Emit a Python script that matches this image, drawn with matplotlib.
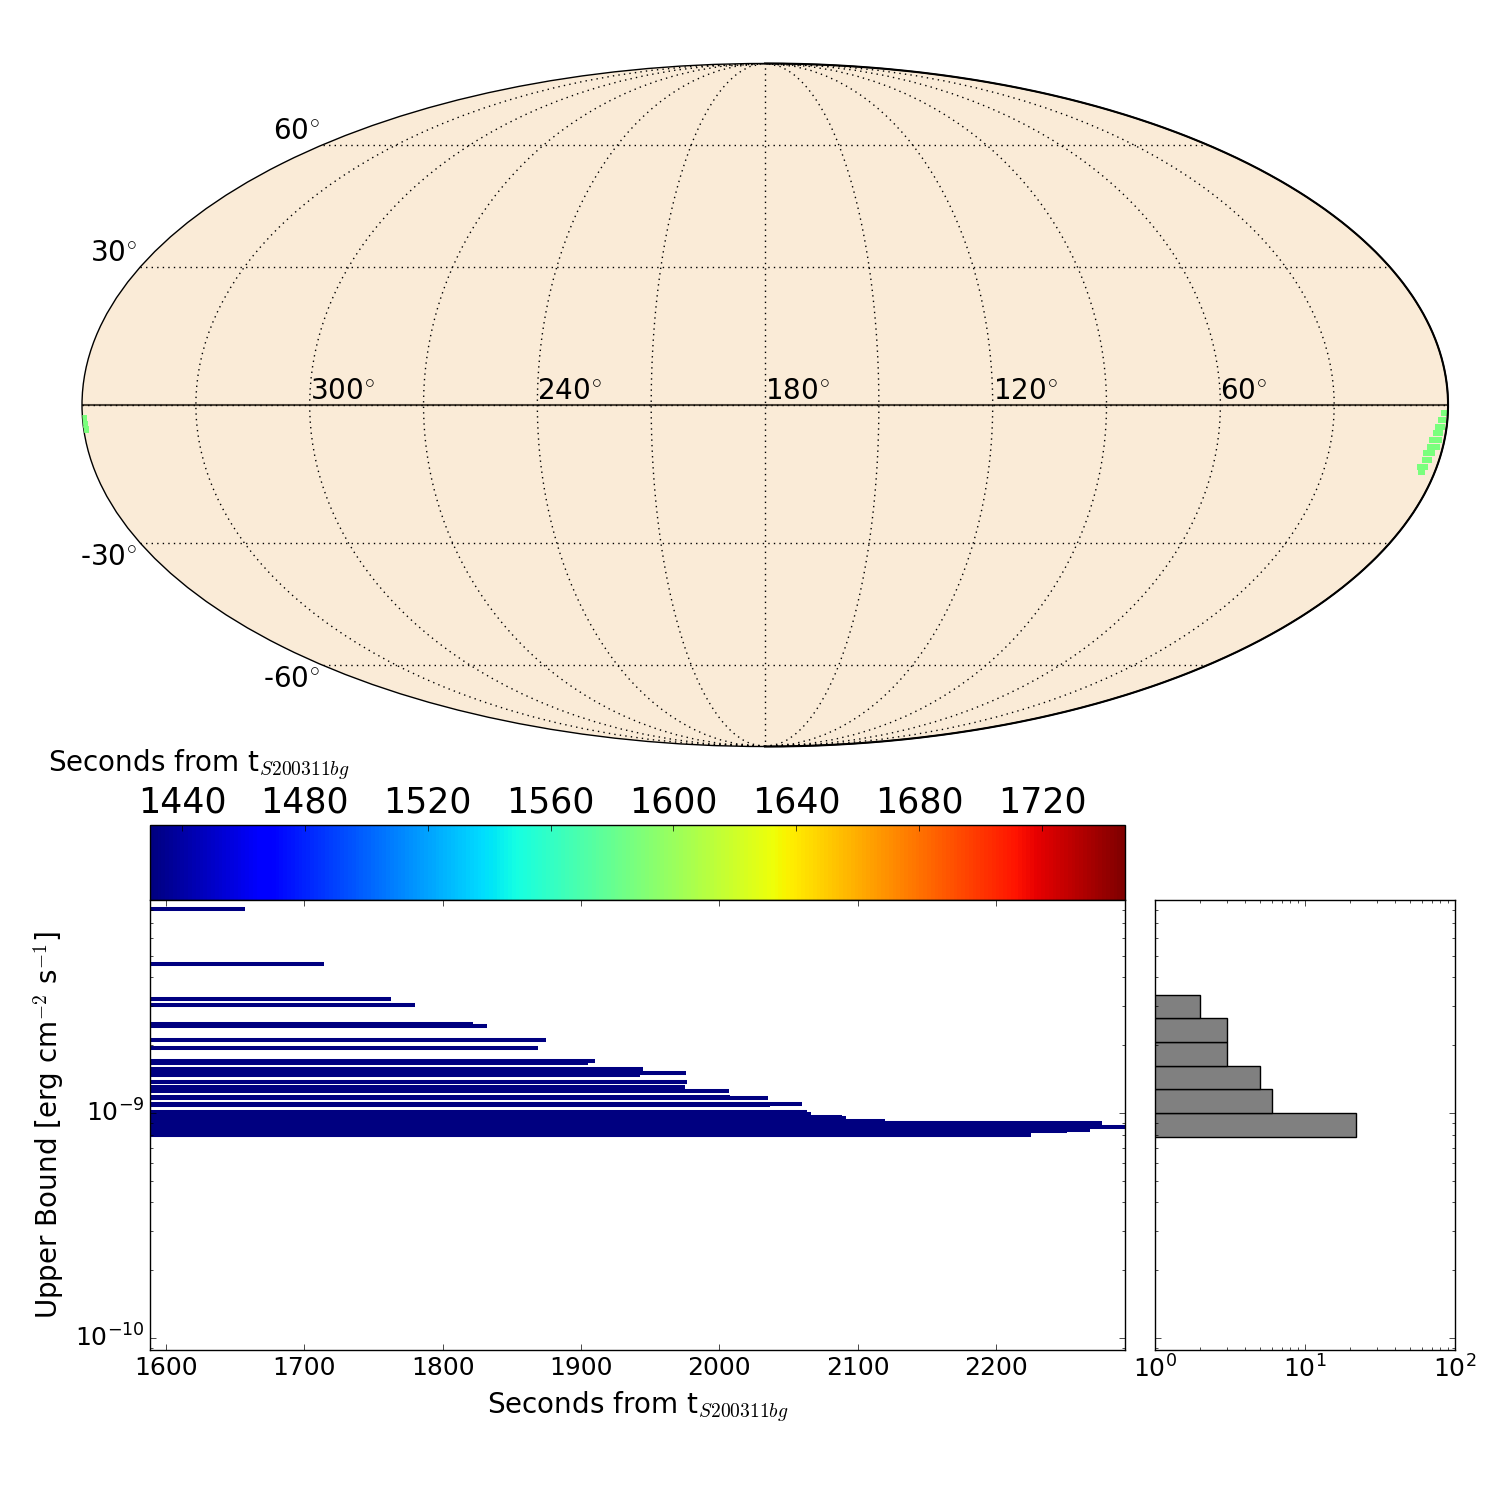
import numpy as np
import matplotlib
matplotlib.use("Agg")
import matplotlib.pyplot as plt
from matplotlib.colors import Normalize
from matplotlib.cm import ScalarMappable
from matplotlib.ticker import NullFormatter

event = "S200311bg"

# time range of the colour scale, seconds from the event
cmap_min = 1429.6
cmap_max = 1747.0

# region on the sky: RA, Dec in degrees, all seen at the same time
sky_ra = [0.87, 1.53, 1.13, 2.14, 1.21, 2.43, 1.64, 3.15, 1.56, 3.27, 1.67,
          3.91, 2.58, 3.63, 2.83, 4.34, 3.27, 3.55, 359.7, 359.45, 359.4]
sky_dec = [-1.7, -3.2, -3.2, -4.7, -4.7, -6.0, -6.0, -7.5, -7.5, -9.0, -9.0,
           -10.3, -10.3, -11.8, -11.8, -13.3, -13.3, -14.3, -2.8, -4.1, -5.3]
sky_time = [1588.0] * len(sky_ra)

ra_labels = [300, 240, 180, 120, 60]
dec_labels = [60, 30, -30, -60]

# upper bounds, one bar per measurement
upper_bound = [8.07e-9, 4.60e-9, 3.21e-9, 3.02e-9, 2.487e-9, 2.436e-9, 2.110e-9,
               1.945e-9, 1.708e-9, 1.668e-9, 1.574e-9, 1.510e-9, 1.468e-9, 1.373e-9,
               1.305e-9, 1.252e-9, 1.178e-9, 1.167e-9, 1.100e-9, 1.082e-9, 1.010e-9,
               0.994e-9, 0.988e-9, 0.980e-9, 0.960e-9, 0.953e-9, 0.950e-9, 0.921e-9,
               0.926e-9, 0.903e-9, 0.898e-9, 0.889e-9, 0.880e-9, 0.871e-9, 0.867e-9,
               0.853e-9, 0.849e-9, 0.843e-9, 0.832e-9, 0.819e-9, 0.811e-9, 0.802e-9,
               0.798e-9]
bar_end = [1657, 1714, 1763, 1780, 1822, 1832, 1875,
           1869, 1910, 1905, 1945, 1976, 1943, 1977,
           1975, 2007, 2008, 2035, 2060, 2037, 2063.5,
           2066, 2063, 2064, 2089, 2092, 2087, 2120,
           2088, 2277, 2203, 2239, 2268, 2217, 2304,
           2246, 2264.5, 2268, 2251.5, 2221, 2217, 2210,
           2225.5]
bar_start = [1430.0] * len(bar_end)

# side histogram
hist_edges = [0.780e-9, 0.997e-9, 1.274e-9, 1.613e-9, 2.062e-9, 2.644e-9, 3.345e-9]
hist_counts = [22, 6, 5, 3, 3, 2]

colorbar_ticks = [1440, 1480, 1520, 1560, 1600, 1640, 1680, 1720]
time_ticks = [1600, 1700, 1800, 1900, 2000, 2100, 2200]
bound_ticks = [1e-10, 1e-9]
count_ticks = [1, 10, 100]


def ra_to_lon(ra):
    # RA grows to the left and 180 sits in the middle
    lon = 180.0 - np.asarray(ra, dtype=float)
    return np.radians(lon)


plt.style.use("classic")
plt.rcParams["font.family"] = "DejaVu Sans"
plt.rcParams["figure.facecolor"] = "white"
plt.rcParams["savefig.facecolor"] = "white"

norm = Normalize(cmap_min, cmap_max)
time_label = "Seconds from t$_{%s}$" % event

fig = plt.figure(figsize=(15, 15), dpi=100)

# sky map
sky = fig.add_axes([0.05467, 0.502, 0.9107, 0.456], projection="mollweide")
sky.set_facecolor("antiquewhite")
sky.set_longitude_grid(30)
sky.set_latitude_grid(30)
sky.set_longitude_grid_ends(90)
sky.grid(True, color="k", linestyle=":", linewidth=1)
sky.xaxis.set_ticklabels([])
sky.yaxis.set_ticklabels([])
sky.tick_params(length=0)
sky.plot(np.radians([-180, 180]), [0, 0], color="#4d4438", linewidth=1.5)
sky.scatter(ra_to_lon(sky_ra), np.radians(sky_dec),
            c=sky_time, cmap="jet", norm=norm, marker="s", s=23, linewidths=0, zorder=3)
# right edge of the map is drawn heavier
edge_lat = np.linspace(-np.pi / 2, np.pi / 2, 181)
sky.plot(np.full(edge_lat.size, np.pi), edge_lat, color="k", linewidth=1.5, clip_on=False, zorder=4)
for ra in ra_labels:
    sky.text(ra_to_lon(ra), 0.001, "%d$^{\\circ}$" % ra, fontsize=20, ha="left", va="bottom")
for dec in dec_labels:
    sky.annotate("%d$^{\\circ}$" % dec, xy=(-np.pi, np.radians(dec)), xytext=(-2, 0),
                 textcoords="offset points", fontsize=20, ha="right",
                 va="bottom" if dec > 0 else "top")

# colour bar
cax = fig.add_axes([0.1, 0.4, 0.65, 0.05])
sm = ScalarMappable(norm=norm, cmap="jet")
cbar = fig.colorbar(sm, cax=cax, orientation="horizontal")
cbar.set_ticks(colorbar_ticks)
cax.xaxis.set_ticks_position("top")
cax.tick_params(labelsize=25, length=4, direction="in", pad=4)
fig.text(48 / 1500, 1 - 765 / 1500, time_label, fontsize=20, ha="left", va="center")

# upper bounds against time
ax = fig.add_axes([0.1, 0.1, 0.65, 0.3])
ax.hlines(upper_bound, bar_start, bar_end, colors=plt.get_cmap("jet")(norm(np.array(bar_start))),
          linewidth=2.9, capstyle="butt")
ax.set_yscale("log")
ax.set_xticks(time_ticks)
ax.set_yticks(bound_ticks)
ax.set_xlim(1588.4, 2293.4)
ax.set_ylim(8.84e-11, 8.84e-9)
ax.tick_params(labelsize=18)
ax.set_xlabel(time_label, fontsize=20, labelpad=7)
ax.set_ylabel("Upper Bound [erg cm$^{-2}$ s$^{-1}$]", fontsize=20, labelpad=6)

# histogram
hax = fig.add_axes([0.77, 0.1, 0.2, 0.3])
hax.hist(hist_edges[:-1], bins=hist_edges, weights=hist_counts, orientation="horizontal",
         color="gray", edgecolor="k")
hax.set_xscale("log")
hax.set_yscale("log")
hax.set_xticks(count_ticks)
hax.set_yticks(bound_ticks)
hax.set_xlim(1, 100)
hax.set_ylim(8.84e-11, 8.84e-9)
hax.yaxis.set_major_formatter(NullFormatter())
hax.yaxis.set_minor_formatter(NullFormatter())
hax.tick_params(labelsize=18)

fig.savefig("out.png", dpi=100)
plt.close(fig)
